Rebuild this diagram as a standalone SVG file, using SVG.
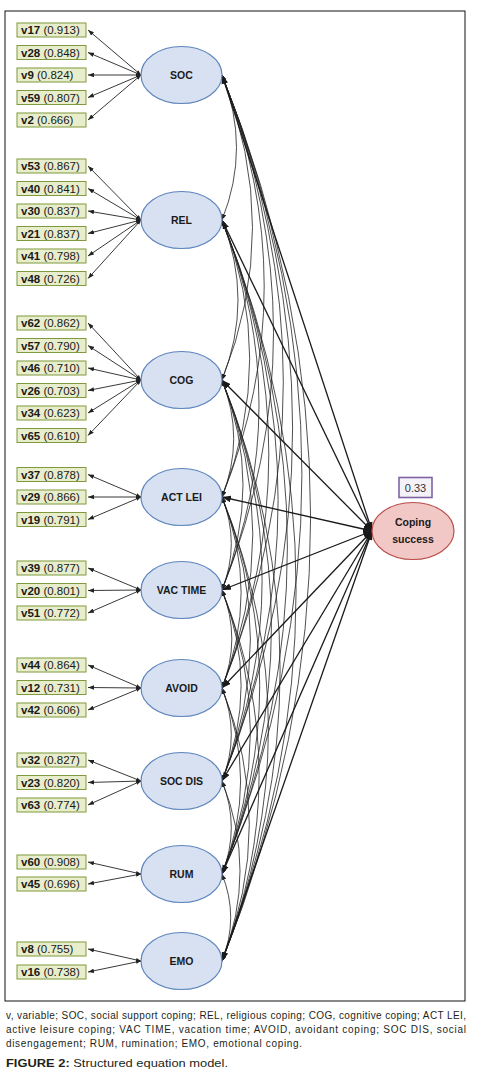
<svg xmlns="http://www.w3.org/2000/svg" width="480" height="1078" viewBox="0 0 480 1078">
<style>
.box{fill:#e8eecb;stroke:#7e9a3c;stroke-width:1}
.bt{font-family:"Liberation Sans",Arial,sans-serif;font-size:11.5px;fill:#1a1a1a}
.bt .b{font-weight:bold}
.lat{fill:#d7e1f1;stroke:#5f85bd;stroke-width:1.2}
.lt{font-family:"Liberation Sans",Arial,sans-serif;font-size:10.5px;font-weight:bold;fill:#1a1a1a;text-anchor:middle}
.ld{stroke:#222;stroke-width:0.9;fill:none}
.cv{stroke:#222;stroke-width:0.8;fill:none}
.st{stroke:#1a1a1a;stroke-width:1.3;fill:none}
.cap{font-family:"Liberation Sans",Arial,sans-serif;font-size:10px;fill:#231f20}
</style>
<defs>
<marker id="s" viewBox="0 0 8 6" refX="8" refY="3" markerWidth="6" markerHeight="4.5" markerUnits="userSpaceOnUse" orient="auto-start-reverse"><path d="M0,0L8,3L0,6z" fill="#222"/></marker>
<marker id="m" viewBox="0 0 8 6" refX="8" refY="3" markerWidth="5" markerHeight="4" markerUnits="userSpaceOnUse" orient="auto-start-reverse"><path d="M0,0L8,3L0,6z" fill="#222"/></marker>
<marker id="L" viewBox="0 0 8 6" refX="8" refY="3" markerWidth="9" markerHeight="7" markerUnits="userSpaceOnUse" orient="auto-start-reverse"><path d="M0,0L8,3L0,6z" fill="#1a1a1a"/></marker>
</defs>
<rect x="5" y="11" width="460" height="990" fill="none" stroke="#111" stroke-width="1"/>

<g id="connectors">
<!-- loadings -->
<g marker-start="url(#m)" marker-end="url(#s)" class="ld">
<path d="M141,75L88,30"/><path d="M141,75L88,52.5"/><path d="M141,75L88,75"/><path d="M141,75L88,97.5"/><path d="M141,75L88,120"/>
<path d="M141,220L88,166"/><path d="M141,220L88,188.5"/><path d="M141,220L88,211"/><path d="M141,220L88,233.5"/><path d="M141,220L88,256"/><path d="M141,220L88,278.5"/>
<path d="M141,380L88,323"/><path d="M141,380L88,345.5"/><path d="M141,380L88,368"/><path d="M141,380L88,390.5"/><path d="M141,380L88,413"/><path d="M141,380L88,435.5"/>
<path d="M141,497L88,474.5"/><path d="M141,497L88,497"/><path d="M141,497L88,519.5"/>
<path d="M141,590L88,568"/><path d="M141,590L88,590.5"/><path d="M141,590L88,613"/>
<path d="M141,688L88,665"/><path d="M141,688L88,687.5"/><path d="M141,688L88,710"/>
<path d="M141,781L88,760"/><path d="M141,781L88,782.5"/><path d="M141,781L88,805"/>
<path d="M141,874L88,862"/><path d="M141,874L88,884"/>
<path d="M141,961L88,949"/><path d="M141,961L88,972"/>
</g>
<!-- covariances -->
<g class="cv" marker-start="url(#s)" marker-end="url(#s)">
<path d="M222,75Q251,147.5 222,220"/>
<path d="M222,75Q283,227.5 222,380"/>
<path d="M222,75Q306.4,286 222,497"/>
<path d="M222,75Q325,332.5 222,590"/>
<path d="M222,75Q344.6,381.5 222,688"/>
<path d="M222,75Q363.2,428 222,781"/>
<path d="M222,75Q381.8,474.5 222,874"/>
<path d="M222,75Q399.2,518 222,961"/>
<path d="M222,220Q254,300 222,380"/>
<path d="M222,220Q277.4,358.5 222,497"/>
<path d="M222,220Q296,405 222,590"/>
<path d="M222,220Q315.6,454 222,688"/>
<path d="M222,220Q334.2,500.5 222,781"/>
<path d="M222,220Q352.8,547 222,874"/>
<path d="M222,220Q370.2,590.5 222,961"/>
<path d="M222,380Q245.4,438.5 222,497"/>
<path d="M222,380Q264,485 222,590"/>
<path d="M222,380Q283.6,534 222,688"/>
<path d="M222,380Q302.2,580.5 222,781"/>
<path d="M222,380Q320.8,627 222,874"/>
<path d="M222,380Q338.2,670.5 222,961"/>
<path d="M222,497Q240.6,543.5 222,590"/>
<path d="M222,497Q260.2,592.5 222,688"/>
<path d="M222,497Q278.8,639 222,781"/>
<path d="M222,497Q297.4,685.5 222,874"/>
<path d="M222,497Q314.8,729 222,961"/>
<path d="M222,590Q241.6,639 222,688"/>
<path d="M222,590Q260.2,685.5 222,781"/>
<path d="M222,590Q278.8,732 222,874"/>
<path d="M222,590Q296.2,775.5 222,961"/>
<path d="M222,688Q240.6,734.5 222,781"/>
<path d="M222,688Q259.2,781 222,874"/>
<path d="M222,688Q276.6,824.5 222,961"/>
<path d="M222,781Q240.6,827.5 222,874"/>
<path d="M222,781Q258,871 222,961"/>
<path d="M222,874Q239.4,917.5 222,961"/>
</g>
<!-- structural paths -->
<g class="st" marker-start="url(#L)" marker-end="url(#L)">
<path d="M372,531L222,75"/>
<path d="M372,531L222,220"/>
<path d="M372,531L222,380"/>
<path d="M372,531L222,497"/>
<path d="M372,531L222,590"/>
<path d="M372,531L222,688"/>
<path d="M372,531L222,781"/>
<path d="M372,531L222,874"/>
<path d="M372,531L222,961"/>
</g>
</g>

<!-- indicator boxes -->
<g id="ind-soc">
<rect class="box" x="17" y="23" width="69" height="14"/><text class="bt" x="21" y="34.2"><tspan class="b">v17</tspan> (0.913)</text>
<rect class="box" x="17" y="45.5" width="69" height="14"/><text class="bt" x="21" y="56.7"><tspan class="b">v28</tspan> (0.848)</text>
<rect class="box" x="17" y="68" width="69" height="14"/><text class="bt" x="21" y="79.2"><tspan class="b">v9</tspan> (0.824)</text>
<rect class="box" x="17" y="90.5" width="69" height="14"/><text class="bt" x="21" y="101.7"><tspan class="b">v59</tspan> (0.807)</text>
<rect class="box" x="17" y="113" width="69" height="14"/><text class="bt" x="21" y="124.2"><tspan class="b">v2</tspan> (0.666)</text>
</g>
<g id="ind-rel">
<rect class="box" x="17" y="159" width="69" height="14"/><text class="bt" x="21" y="170.2"><tspan class="b">v53</tspan> (0.867)</text>
<rect class="box" x="17" y="181.5" width="69" height="14"/><text class="bt" x="21" y="192.7"><tspan class="b">v40</tspan> (0.841)</text>
<rect class="box" x="17" y="204" width="69" height="14"/><text class="bt" x="21" y="215.2"><tspan class="b">v30</tspan> (0.837)</text>
<rect class="box" x="17" y="226.5" width="69" height="14"/><text class="bt" x="21" y="237.7"><tspan class="b">v21</tspan> (0.837)</text>
<rect class="box" x="17" y="249" width="69" height="14"/><text class="bt" x="21" y="260.2"><tspan class="b">v41</tspan> (0.798)</text>
<rect class="box" x="17" y="271.5" width="69" height="14"/><text class="bt" x="21" y="282.7"><tspan class="b">v48</tspan> (0.726)</text>
</g>
<g id="ind-cog">
<rect class="box" x="17" y="316" width="69" height="14"/><text class="bt" x="21" y="327.2"><tspan class="b">v62</tspan> (0.862)</text>
<rect class="box" x="17" y="338.5" width="69" height="14"/><text class="bt" x="21" y="349.7"><tspan class="b">v57</tspan> (0.790)</text>
<rect class="box" x="17" y="361" width="69" height="14"/><text class="bt" x="21" y="372.2"><tspan class="b">v46</tspan> (0.710)</text>
<rect class="box" x="17" y="383.5" width="69" height="14"/><text class="bt" x="21" y="394.7"><tspan class="b">v26</tspan> (0.703)</text>
<rect class="box" x="17" y="406" width="69" height="14"/><text class="bt" x="21" y="417.2"><tspan class="b">v34</tspan> (0.623)</text>
<rect class="box" x="17" y="428.5" width="69" height="14"/><text class="bt" x="21" y="439.7"><tspan class="b">v65</tspan> (0.610)</text>
</g>
<g id="ind-act">
<rect class="box" x="17" y="467.5" width="69" height="14"/><text class="bt" x="21" y="478.7"><tspan class="b">v37</tspan> (0.878)</text>
<rect class="box" x="17" y="490" width="69" height="14"/><text class="bt" x="21" y="501.2"><tspan class="b">v29</tspan> (0.866)</text>
<rect class="box" x="17" y="512.5" width="69" height="14"/><text class="bt" x="21" y="523.7"><tspan class="b">v19</tspan> (0.791)</text>
</g>
<g id="ind-vac">
<rect class="box" x="17" y="561" width="69" height="14"/><text class="bt" x="21" y="572.2"><tspan class="b">v39</tspan> (0.877)</text>
<rect class="box" x="17" y="583.5" width="69" height="14"/><text class="bt" x="21" y="594.7"><tspan class="b">v20</tspan> (0.801)</text>
<rect class="box" x="17" y="606" width="69" height="14"/><text class="bt" x="21" y="617.2"><tspan class="b">v51</tspan> (0.772)</text>
</g>
<g id="ind-avoid">
<rect class="box" x="17" y="658" width="69" height="14"/><text class="bt" x="21" y="669.2"><tspan class="b">v44</tspan> (0.864)</text>
<rect class="box" x="17" y="680.5" width="69" height="14"/><text class="bt" x="21" y="691.7"><tspan class="b">v12</tspan> (0.731)</text>
<rect class="box" x="17" y="703" width="69" height="14"/><text class="bt" x="21" y="714.2"><tspan class="b">v42</tspan> (0.606)</text>
</g>
<g id="ind-socdis">
<rect class="box" x="17" y="753" width="69" height="14"/><text class="bt" x="21" y="764.2"><tspan class="b">v32</tspan> (0.827)</text>
<rect class="box" x="17" y="775.5" width="69" height="14"/><text class="bt" x="21" y="786.7"><tspan class="b">v23</tspan> (0.820)</text>
<rect class="box" x="17" y="798" width="69" height="14"/><text class="bt" x="21" y="809.2"><tspan class="b">v63</tspan> (0.774)</text>
</g>
<g id="ind-rum">
<rect class="box" x="17" y="855" width="69" height="14"/><text class="bt" x="21" y="866.2"><tspan class="b">v60</tspan> (0.908)</text>
<rect class="box" x="17" y="877" width="69" height="14"/><text class="bt" x="21" y="888.2"><tspan class="b">v45</tspan> (0.696)</text>
</g>
<g id="ind-emo">
<rect class="box" x="17" y="942" width="69" height="14"/><text class="bt" x="21" y="953.2"><tspan class="b">v8</tspan> (0.755)</text>
<rect class="box" x="17" y="965" width="69" height="14"/><text class="bt" x="21" y="976.2"><tspan class="b">v16</tspan> (0.738)</text>
</g>

<!-- latent nodes -->
<g id="SOC"><ellipse class="lat" cx="181.5" cy="75" rx="40.5" ry="28.5"/><text class="lt" x="181.5" y="79">SOC</text></g>
<g id="REL"><ellipse class="lat" cx="181.5" cy="220" rx="40.5" ry="28.5"/><text class="lt" x="181.5" y="224">REL</text></g>
<g id="COG"><ellipse class="lat" cx="181.5" cy="380" rx="40.5" ry="28.5"/><text class="lt" x="181.5" y="384">COG</text></g>
<g id="ACTLEI"><ellipse class="lat" cx="181.5" cy="497" rx="40.5" ry="28.5"/><text class="lt" x="181.5" y="501">ACT LEI</text></g>
<g id="VACTIME"><ellipse class="lat" cx="181.5" cy="590" rx="40.5" ry="28.5"/><text class="lt" x="181.5" y="594">VAC TIME</text></g>
<g id="AVOID"><ellipse class="lat" cx="181.5" cy="688" rx="40.5" ry="28.5"/><text class="lt" x="181.5" y="692">AVOID</text></g>
<g id="SOCDIS"><ellipse class="lat" cx="181.5" cy="781" rx="40.5" ry="28.5"/><text class="lt" x="181.5" y="785">SOC DIS</text></g>
<g id="RUM"><ellipse class="lat" cx="181.5" cy="874" rx="40.5" ry="28.5"/><text class="lt" x="181.5" y="878">RUM</text></g>
<g id="EMO"><ellipse class="lat" cx="181.5" cy="961" rx="40.5" ry="28.5"/><text class="lt" x="181.5" y="965">EMO</text></g>

<g id="coping">
<ellipse cx="413" cy="531" rx="41" ry="28.5" fill="#f2c8c6" stroke="#b9504c" stroke-width="1.2"/>
<text class="lt" x="413" y="526">Coping</text>
<text class="lt" x="413" y="543">success</text>
</g>
<g id="r2">
<rect x="399" y="477.5" width="33" height="20" fill="#f4f1f8" stroke="#8064a2" stroke-width="1.6"/>
<text x="415.5" y="491.5" font-family="Liberation Sans,Arial,sans-serif" font-size="11" fill="#333" text-anchor="middle">0.33</text>
</g>

<g id="caption">
<text class="cap" x="6" y="1019" textLength="460" lengthAdjust="spacing">v, variable; SOC, social support coping; REL, religious coping; COG, cognitive coping; ACT LEI,</text>
<text class="cap" x="6" y="1033" textLength="460" lengthAdjust="spacing">active leisure coping; VAC TIME, vacation time; AVOID, avoidant coping; SOC DIS, social</text>
<text class="cap" x="6" y="1047" textLength="296" lengthAdjust="spacing">disengagement; RUM, rumination; EMO, emotional coping.</text>
<text x="6" y="1067" font-family="Liberation Sans,Arial,sans-serif" font-size="11.5" fill="#231f20" textLength="222" lengthAdjust="spacingAndGlyphs"><tspan font-weight="bold">FIGURE 2:</tspan> Structured equation model.</text>
</g>
</svg>
